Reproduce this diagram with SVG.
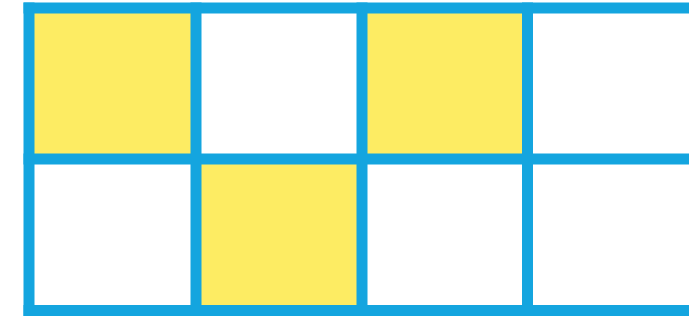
<svg xmlns="http://www.w3.org/2000/svg" width="689" height="326" viewBox="0 0 689 326">
<style>
.y{fill:#fdec63}
.w{fill:#ffffff}
.g{stroke:#14a5df;stroke-width:11;fill:none}
</style>
<rect width="689" height="326" fill="#ffffff"/>
<g id="cells">
<rect id="c00" class="y" x="29" y="8" width="167" height="151"/>
<rect id="c02" class="y" x="362" y="8" width="165" height="151"/>
<rect id="c11" class="y" x="196" y="159" width="166" height="152"/>
</g>
<g id="grid" class="g">
<line x1="23.5" y1="8" x2="689" y2="8"/>
<line x1="23.5" y1="159" x2="689" y2="159"/>
<line x1="23.5" y1="310.5" x2="689" y2="310.5"/>
<line x1="29" y1="2.5" x2="29" y2="316"/>
<line x1="196" y1="2.5" x2="196" y2="316"/>
<line x1="362" y1="2.5" x2="362" y2="316"/>
<line x1="527.5" y1="2.5" x2="527.5" y2="316"/>
</g>
</svg>
